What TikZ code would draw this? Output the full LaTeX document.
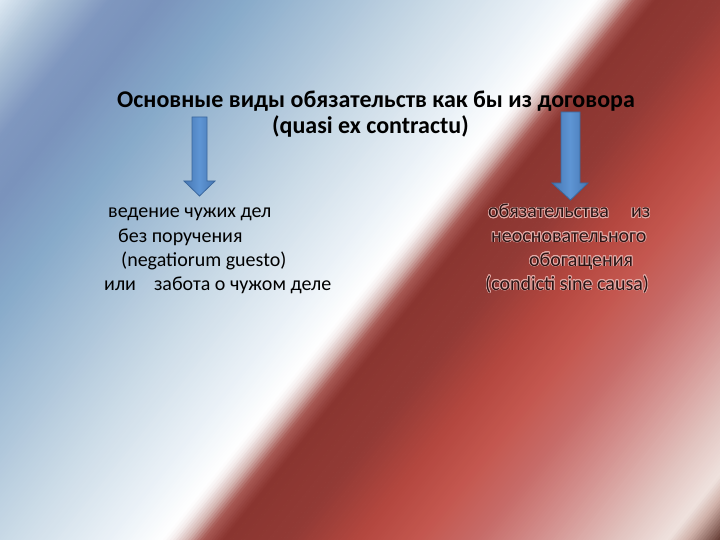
\documentclass[tikz,border=0pt]{standalone}
\usepackage{fontspec}
\setmainfont{Carlito}
\usepackage{contour}
\contourlength{0.7pt}
\contournumber{16}
\definecolor{g0}{HTML}{DDE9F3}
\definecolor{g1}{HTML}{ABC0D6}
\definecolor{g2}{HTML}{7F97BF}
\definecolor{g3}{HTML}{7A93BC}
\definecolor{g4}{HTML}{86A9C9}
\definecolor{g5}{HTML}{A9C2D8}
\definecolor{g6}{HTML}{CBDBE7}
\definecolor{g7}{HTML}{EAF1F7}
\definecolor{g8}{HTML}{FFFFFF}
\definecolor{g9}{HTML}{F4ECEC}
\definecolor{g10}{HTML}{D4B4B0}
\definecolor{g11}{HTML}{A85A55}
\definecolor{g12}{HTML}{8A3530}
\definecolor{g13}{HTML}{923A35}
\definecolor{g14}{HTML}{B4473F}
\definecolor{g15}{HTML}{C4574F}
\definecolor{g16}{HTML}{C76C69}
\definecolor{g17}{HTML}{D38F8D}
\definecolor{g18}{HTML}{E2C4C0}
\definecolor{g19}{HTML}{EFE2DE}
\definecolor{g20}{HTML}{CFB0A8}
\definecolor{g21}{HTML}{5A3028}
\definecolor{arrowdark}{HTML}{4676B2}
\definecolor{arrowlight}{HTML}{5E95D4}
\definecolor{arrowline}{HTML}{3B679C}
\definecolor{redtext}{HTML}{2A1414}
\definecolor{halo}{HTML}{E4ACA8}
\newcommand\bgseg[4]{%
  \pgfmathtruncatemacro\bgn{max(1,round((#2-#1)/3))}%
  \foreach \k in {1,...,\bgn}{%
    \pgfmathsetmacro\bga{#1+(#2-#1)*(\k-1)/\bgn}%
    \pgfmathsetmacro\bgb{#1+(#2-#1)*\k/\bgn+0.8}%
    \pgfmathtruncatemacro\bgt{100*(\k-0.5)/\bgn}%
    \fill[#4!\bgt!#3] (\bga,0) -- (\bgb,0) -- (\bgb-432,540) -- (\bga-432,540) -- cycle;
  }}
\newcommand\halo[1]{\contour{halo}{\textcolor{redtext}{#1}}}
\tikzset{
  bodytext/.style={anchor=base west, inner sep=0pt, font=\fontsize{20}{24}\selectfont},
  titletext/.style={anchor=base west, inner sep=0pt, font=\fontsize{24}{28}\selectfont\bfseries},
  blockarrow/.style={left color=arrowdark, right color=arrowdark, middle color=arrowlight, draw=arrowline, line width=0.8pt, line join=miter},
}
\begin{document}
\begin{tikzpicture}[x=1pt, y=-1pt]
\useasboundingbox (0,0) rectangle (720,540);
\begin{scope}
\clip (0,0) rectangle (720,540);
\bgseg{0}{50}{g0}{g1}
\bgseg{50}{110}{g1}{g2}
\bgseg{110}{160}{g2}{g3}
\bgseg{160}{240}{g3}{g4}
\bgseg{240}{340}{g4}{g5}
\bgseg{340}{440}{g5}{g6}
\bgseg{440}{540}{g6}{g7}
\bgseg{540}{595}{g7}{g8}
\bgseg{595}{605}{g8}{g9}
\bgseg{605}{620}{g9}{g10}
\bgseg{620}{635}{g10}{g11}
\bgseg{635}{655}{g11}{g12}
\bgseg{655}{720}{g12}{g13}
\bgseg{720}{790}{g13}{g14}
\bgseg{790}{850}{g14}{g15}
\bgseg{850}{910}{g15}{g16}
\bgseg{910}{970}{g16}{g17}
\bgseg{970}{1050}{g17}{g18}
\bgseg{1050}{1100}{g18}{g19}
\bgseg{1100}{1120}{g19}{g20}
\bgseg{1120}{1155}{g20}{g21}
\end{scope}

% title
\node[titletext] (title1) at (117,108) {Основные виды обязательств как бы из договора};
\node[titletext] (title2) at (272,134) {(quasi ex contractu)};

% arrows
\coordinate (la) at (199.5,117);
\coordinate (ra) at (570.5,112);
\path[blockarrow] ([xshift=-7.5]la) -- ([xshift=7.5]la) -- ([shift={(7.5,64)}]la) -- ([shift={(15.5,64)}]la)
  -- ([shift={(0,79)}]la) -- ([shift={(-15.5,64)}]la) -- ([shift={(-7.5,64)}]la) -- cycle;
\path[blockarrow] ([xshift=-9.5]ra) -- ([xshift=9.5]ra) -- ([shift={(9.5,71)}]ra) -- ([shift={(17.5,71)}]ra)
  -- ([shift={(0,88)}]ra) -- ([shift={(-18.5,71)}]ra) -- ([shift={(-9.5,71)}]ra) -- cycle;

% left block
\node[bodytext] (l1) at (108,218) {ведение чужих дел};
\node[bodytext] (l2) at (118,242) {без поручения};
\node[bodytext] (l3) at (121,266) {(negatiorum guesto)};
\node[bodytext] (l4) at (104,290) {или\hspace{0.9em}забота о чужом деле};

% right block
\node[bodytext] (r1) at (488,218) {\halo{обязательства\hspace{1.1em}из}};
\node[bodytext] (r2) at (491,242) {\halo{неосновательного}};
\node[bodytext] (r3) at (529,266) {\halo{обогащения}};
\node[bodytext] (r4) at (485,290) {\halo{(condicti sine causa)}};
\end{tikzpicture}
\end{document}
